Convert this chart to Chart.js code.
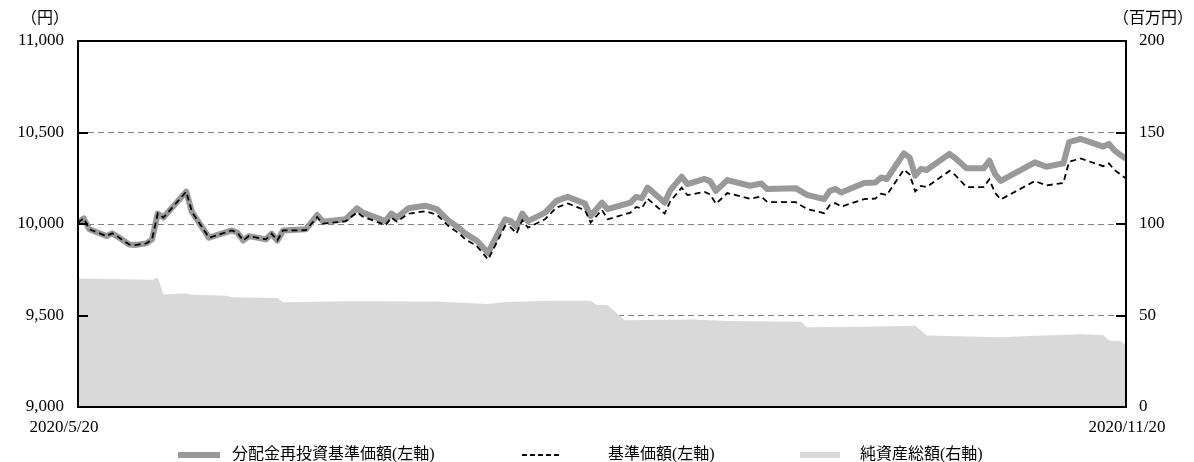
<!DOCTYPE html>
<html><head><meta charset="utf-8">
<script src="https://cdn.jsdelivr.net/npm/chart.js@4/dist/chart.umd.min.js"></script>
<style>html,body{margin:0;padding:0;background:#fff;}#wrap{width:1194px;height:462px;position:relative;}</style>
</head><body><div id="wrap"><canvas id="c" width="1194" height="462"></canvas></div>
<script>
// ---- data ----
const START_LABEL = '2020/5/20';
const END_LABEL = '2020/11/20';
const TOTAL_DAYS = 184; // calendar days from 2020/5/20 to 2020/11/20
const LEFT_UNIT = '（円）';
const RIGHT_UNIT = '（百万円）';
const SERIES_NAMES = ['分配金再投資基準価額(左軸)', '基準価額(左軸)', '純資産総額(右軸)'];
const LEFT_TICKS = [9000, 9500, 10000, 10500, 11000];
const RIGHT_TICKS = [0, 50, 100, 150, 200];

// days since 2020/5/20
const DAYS = [0,1,2,5,6,7,9,10,12,13,14,15,19,20,23,27,28,29,30,33,34,35,36,40,42,43,47,49,50,54,55,56,58,61,63,65,67,68,70,72,75,76,77,78,79,82,84,86,89,90,92,93,97,98,99,100,103,104,106,107,110,111,112,114,118,120,121,126,128,131,132,133,134,138,140,141,142,145,146,147,148,149,153,154,156,159,160,161,162,168,170,173,174,176,180,181,182,184];
const REINVESTED = [10007,10031,9971,9934,9949,9930,9888,9885,9894,9916,10057,10035,10177,10066,9925,9965,9952,9910,9934,9916,9947,9910,9965,9971,10049,10013,10026,10086,10062,10016,10057,10035,10086,10100,10081,10020,9976,9947,9910,9842,10026,10016,9984,10057,10016,10062,10126,10148,10112,10044,10117,10081,10117,10148,10141,10199,10117,10185,10258,10218,10246,10233,10181,10240,10209,10221,10191,10196,10159,10136,10181,10191,10172,10224,10227,10254,10246,10386,10364,10264,10301,10295,10383,10361,10304,10304,10346,10273,10236,10337,10313,10331,10447,10465,10423,10438,10401,10356];
const NAV = [10007,10031,9971,9934,9949,9930,9888,9885,9894,9916,10057,10035,10177,10066,9925,9965,9952,9910,9934,9916,9947,9910,9965,9966,10038,10002,10015,10064,10040,9994,10035,10013,10056,10070,10051,9990,9946,9917,9880,9806,9990,9980,9948,10021,9980,10026,10090,10112,10076,10008,10077,10026,10062,10093,10086,10139,10057,10125,10198,10158,10175,10162,10110,10169,10138,10150,10120,10119,10082,10059,10104,10114,10095,10136,10139,10166,10158,10298,10271,10178,10208,10202,10290,10268,10202,10202,10244,10171,10134,10235,10211,10224,10340,10358,10316,10331,10294,10249];
const ASSET_DAYS = [0,13,14,15,19,20,26,27,35,36,48,63,72,75,84,90,91,93,96,108,114,127,128,138,147,149,162,168,176,180,181,183,184];
const ASSETS = [70.2,69.6,70.7,61.5,62.2,61.3,60.8,60.0,59.6,57.2,57.8,57.6,56.3,57.4,58.1,58.0,55.9,55.8,47.4,47.8,47.0,46.6,43.6,43.8,44.4,39.1,38.1,38.9,39.7,39.3,36.4,36.1,33.8];

// ---- style ----
const NUM_FONT_FAMILY = "'Liberation Serif', 'Noto Sans CJK JP', serif";
const JP_FONT_FAMILY = "'Liberation Serif', 'Noto Sans CJK JP', sans-serif";
const NUM_SIZE = 17;
const GREY_LINE = '#999999';
const AREA = '#d9d9d9';

const pts = (xs, ys) => xs.map((d, i) => ({x: d, y: ys[i]}));

const overlay = {
  id: 'overlay',
  afterDraw(chart) {
    const {ctx, chartArea: a, scales} = chart;
    ctx.save();
    ctx.strokeStyle = '#000';
    ctx.lineWidth = 2;
    LEFT_TICKS.slice(1, -1).forEach(v => {
      const y = Math.round(scales.y.getPixelForValue(v));
      ctx.beginPath(); ctx.moveTo(a.left, y); ctx.lineTo(a.left + 10, y); ctx.stroke();
    });
    RIGHT_TICKS.slice(1, -1).forEach(v => {
      const y = Math.round(scales.y1.getPixelForValue(v));
      ctx.beginPath(); ctx.moveTo(a.right, y); ctx.lineTo(a.right - 10, y); ctx.stroke();
    });
    ctx.strokeRect(a.left, a.top, a.right - a.left, a.bottom - a.top);

    ctx.fillStyle = '#000';
    ctx.textBaseline = 'middle';
    ctx.font = '16px ' + JP_FONT_FAMILY;
    ctx.textAlign = 'center';
    ctx.fillText(LEFT_UNIT, 45, 19);
    ctx.textAlign = 'right';
    ctx.fillText(RIGHT_UNIT, 1193, 19);

    ctx.font = NUM_SIZE + 'px ' + NUM_FONT_FAMILY;
    ctx.textAlign = 'center';
    ctx.fillText(START_LABEL, scales.x.getPixelForValue(0) - 14, 428);
    ctx.fillText(END_LABEL, scales.x.getPixelForValue(TOTAL_DAYS) + 1, 428);

    // legend
    const ly = 455;
    const items = [
      {x0: 178, x1: 220, tx: 232, color: GREY_LINE, w: 6, dash: []},
      {x0: 522, x1: 562, tx: 608, color: '#000', w: 2, dash: [5, 3]},
      {x0: 800, x1: 840, tx: 860, color: AREA, w: 6, dash: []}
    ];
    ctx.font = '16px ' + JP_FONT_FAMILY;
    ctx.textAlign = 'left';
    items.forEach((it, i) => {
      ctx.beginPath();
      ctx.strokeStyle = it.color; ctx.lineWidth = it.w; ctx.setLineDash(it.dash);
      ctx.moveTo(it.x0, ly); ctx.lineTo(it.x1, ly); ctx.stroke();
      ctx.setLineDash([]);
      ctx.fillText(SERIES_NAMES[i], it.tx, ly);
    });
    ctx.restore();
  }
};

new Chart(document.getElementById('c'), {
  type: 'line',
  data: {
    datasets: [
      {label: SERIES_NAMES[2], data: pts(ASSET_DAYS, ASSETS), yAxisID: 'y1', fill: 'start',
       backgroundColor: AREA, borderWidth: 0, pointRadius: 0, tension: 0, order: 3},
      {label: SERIES_NAMES[0], data: pts(DAYS, REINVESTED), yAxisID: 'y', fill: false,
       borderColor: GREY_LINE, borderWidth: 6, borderJoinStyle: 'round', pointRadius: 0, tension: 0, order: 2},
      {label: SERIES_NAMES[1], data: pts(DAYS, NAV), yAxisID: 'y', fill: false,
       borderColor: '#000', borderWidth: 1.8, borderDash: [6, 4], pointRadius: 0, tension: 0, order: 1}
    ]
  },
  options: {
    responsive: false,
    animation: false,
    devicePixelRatio: 1,
    layout: {padding: {top: 41, bottom: 55, left: 0, right: 0}},
    plugins: {legend: {display: false}, tooltip: {enabled: false}},
    scales: {
      x: {type: 'linear', min: 0, max: TOTAL_DAYS, display: false},
      y: {
        position: 'left', min: 9000, max: 11000,
        afterBuildTicks: s => { s.ticks = LEFT_TICKS.map(v => ({value: v})); },
        afterFit: s => { s.width = 78; },
        ticks: {color: '#000', padding: 14, font: {family: NUM_FONT_FAMILY, size: NUM_SIZE},
                callback: v => v.toLocaleString('en-US')},
        grid: {drawTicks: false, lineWidth: 1,
               color: c => (c.tick && (c.tick.value === 9000 || c.tick.value === 11000)) ? 'rgba(0,0,0,0)' : '#808080'},
        border: {display: false, dash: [6, 4]}
      },
      y1: {
        position: 'right', min: 0, max: 200,
        afterBuildTicks: s => { s.ticks = RIGHT_TICKS.map(v => ({value: v})); },
        afterFit: s => { s.width = 68; },
        ticks: {color: '#000', padding: 13, font: {family: NUM_FONT_FAMILY, size: NUM_SIZE}},
        grid: {display: false, drawTicks: false},
        border: {display: false}
      }
    }
  },
  plugins: [overlay]
});
</script>
</body></html>
